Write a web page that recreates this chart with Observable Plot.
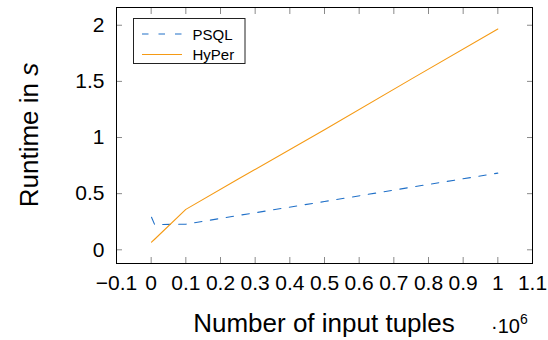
<!DOCTYPE html>
<html><head><meta charset="utf-8">
<script src="https://cdn.jsdelivr.net/npm/d3@7"></script>
<script src="https://cdn.jsdelivr.net/npm/@observablehq/plot@0.6"></script>
<style>body{margin:0;background:#fff;} #chart{position:relative;width:548px;height:340px;}</style>
</head><body><div id="chart"></div>
<script>
// Data
const tuples = [1000, 10000, 100000, 250000, 500000, 750000, 1000000];
const psql  = [0.29, 0.225, 0.228, 0.305, 0.43, 0.557, 0.683];
const hyper = [0.068, 0.094, 0.36, 0.628, 1.07, 1.52, 1.966];
const seriesNames = ["PSQL", "HyPer"];
const seriesColors = ["#2070c8", "#f59a14"];
const xTicks = [-0.1, 0, 0.1, 0.2, 0.3, 0.4, 0.5, 0.6, 0.7, 0.8, 0.9, 1, 1.1];
const yTicks = [0, 0.5, 1, 1.5, 2];

const font = "'Liberation Sans', Arial, Helvetica, sans-serif";
const psqlRows = tuples.map((t, i) => ({x: t / 1e6, y: psql[i]}));
const hyperRows = tuples.map((t, i) => ({x: t / 1e6, y: hyper[i]}));
const tickGrey = "#8a8a8a";
const fmt = d3.format("~g");

const plot = Plot.plot({
  width: 548, height: 340,
  marginLeft: 116, marginRight: 16, marginTop: 7, marginBottom: 77,
  style: {fontFamily: font, fontSize: "21px", color: "#000", background: "#fff"},
  x: {domain: [-0.1, 1.1]},
  y: {domain: [-0.122, 2.158]},
  marks: [
    Plot.axisX(xTicks, {anchor: "bottom", tickSize: -6, fill: "none", label: null, stroke: tickGrey}),
    Plot.axisX(xTicks, {anchor: "top", tickSize: -6, fill: "none", label: null, stroke: tickGrey}),
    Plot.axisY(yTicks, {anchor: "left", tickSize: -6, fill: "none", label: null, stroke: tickGrey}),
    Plot.axisY(yTicks, {anchor: "right", tickSize: -6, fill: "none", label: null, stroke: tickGrey}),
    Plot.axisX(xTicks, {anchor: "bottom", tickSize: 0, tickPadding: 12, label: null, tickFormat: fmt}),
    Plot.axisY(yTicks, {anchor: "left", tickSize: 0, tickPadding: 12, label: null, tickFormat: fmt}),
    Plot.line(psqlRows, {x: "x", y: "y", stroke: seriesColors[0], strokeWidth: 1.1, strokeDasharray: "7.5,8.5"}),
    Plot.line(hyperRows, {x: "x", y: "y", stroke: seriesColors[1], strokeWidth: 1.1}),
    Plot.frame({stroke: "#000", strokeWidth: 1})
  ]
});
document.getElementById("chart").appendChild(plot);

const svg = d3.select(plot);
svg.selectAll("text").style("font-size", "21px").style("font-family", font);
// axis labels
svg.append("text").attr("x", 324).attr("y", 332).attr("text-anchor", "middle")
  .attr("font-family", font).style("font-size", "26px").attr("fill", "#000")
  .text("Number of input tuples");
const yl = svg.append("text").attr("transform", "translate(38,135) rotate(-90)").attr("text-anchor", "middle")
  .attr("font-family", font).style("font-size", "26px").attr("fill", "#000");
yl.append("tspan").text("Runtime in ");
yl.append("tspan").attr("font-style", "italic").text("s");
// exponent
const ex = svg.append("text").attr("x", 491).attr("y", 333).attr("text-anchor", "start").attr("font-family", font)
  .style("font-size", "20px").attr("fill", "#000");
ex.append("tspan").text("·10");
ex.append("tspan").style("font-size", "14px").attr("dy", -9).text("6");

// legend
const lg = svg.append("g");
lg.append("rect").attr("x", 133.5).attr("y", 18.5).attr("width", 111.5).attr("height", 45)
  .attr("fill", "#fff").attr("stroke", "#222").attr("stroke-width", 1);
seriesNames.forEach((name, i) => {
  const cy = 34 + i * 20.5;
  lg.append("line").attr("x1", 142).attr("x2", 182).attr("y1", cy).attr("y2", cy)
    .attr("stroke", seriesColors[i]).attr("stroke-width", 1.1)
    .attr("stroke-dasharray", i === 0 ? "6.5,10" : null);
  lg.append("text").attr("x", 192.5).attr("y", cy + 5.5).attr("text-anchor", "start").attr("font-family", font)
    .style("font-size", "15px").attr("fill", "#000").text(name);
});
</script>
</body></html>
